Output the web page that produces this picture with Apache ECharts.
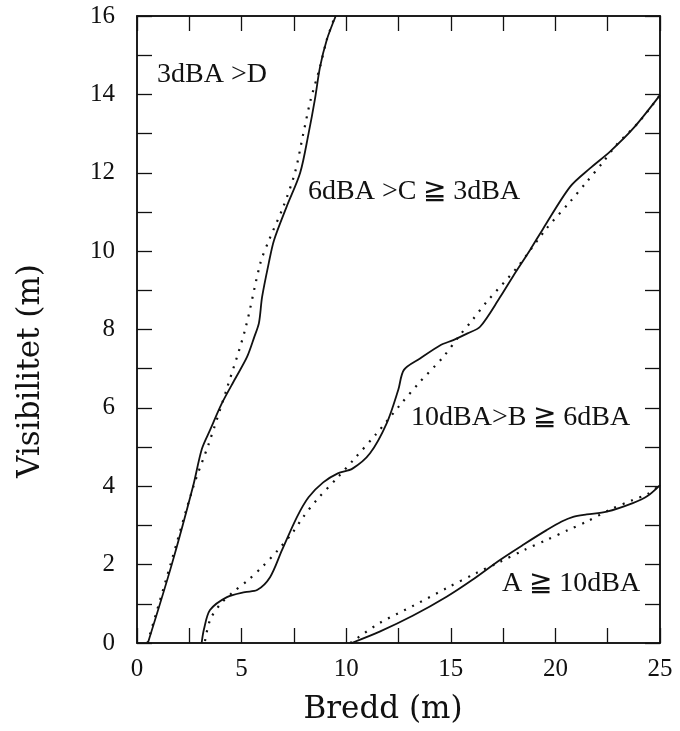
<!DOCTYPE html>
<html>
<head>
<meta charset="utf-8">
<script src="https://cdn.jsdelivr.net/npm/echarts@6/dist/echarts.min.js"></script>
<style>
  html, body { margin: 0; padding: 0; background: #fff; }
  #main { width: 680px; height: 731px; }
</style>
</head>
<body>
<div id="main"></div>
<script>
// grenser mellom sonene, [bredd, visibilitet]
var lineD = [[0.52, 0], [1.66, 2], [2.68, 4], [3.1, 4.95], [3.49, 5.43], [4.06, 6.12], [4.7, 6.75],
    [5.26, 7.3], [5.6, 7.8], [5.83, 8.17], [5.98, 8.83], [6.3, 9.7], [6.55, 10.28], [7.15, 11.13],
    [7.8, 12], [8.2, 13.0], [8.5, 13.86], [8.75, 14.7], [9.07, 15.39], [9.5, 16]];
var fitD = [[0.5, 0], [1.6, 2], [2.7, 4], [3.44, 5.1], [4.3, 6.5], [5.17, 8], [5.9, 9.7], [6.31, 10.28],
    [6.99, 11.13], [7.55, 12], [7.95, 13], [8.3, 13.86], [8.75, 14.7], [9.07, 15.39], [9.47, 16]];

var lineC = [[3.09, 0], [3.2, 0.35], [3.49, 0.84], [4.3, 1.17], [5.16, 1.3], [5.74, 1.35], [6.36, 1.68],
    [6.93, 2.37], [7.65, 3.22], [8.2, 3.72], [8.9, 4.1], [9.6, 4.33], [10.3, 4.45], [11.14, 4.84],
    [11.94, 5.61], [12.49, 6.46], [12.76, 6.97], [13.53, 7.26], [14.5, 7.6], [15.12, 7.73], [15.8, 7.9],
    [16.4, 8.07], [17.35, 8.82], [18.0, 9.38], [18.79, 10.03], [19.42, 10.58], [20.7, 11.64],
    [21.65, 12.11], [22.61, 12.54], [23.72, 13.13], [25, 13.98]];
var fitC = [[3.25, 0.05], [3.5, 0.6], [4.0, 1.0], [4.6, 1.3], [5.3, 1.6], [6.0, 1.95], [6.7, 2.35],
    [7.47, 2.84], [7.95, 3.22], [8.59, 3.65], [9.62, 4.24], [10.34, 4.67], [11.46, 5.35], [12.57, 6.07],
    [13.5, 6.65], [14.64, 7.3], [15.44, 7.86], [16.0, 8.22], [16.72, 8.71], [18.15, 9.57], [19.58, 10.58],
    [20.7, 11.26], [21.5, 11.77], [22.29, 12.28], [22.9, 12.7], [24, 13.3], [25, 13.98]];

var lineA = [[10.26, 0], [11.6, 0.29], [13.2, 0.7], [14.8, 1.18], [16.0, 1.6], [17.35, 2.12], [18.5, 2.52],
    [19.58, 2.88], [20.3, 3.1], [20.85, 3.22], [21.5, 3.28], [22.45, 3.35], [23.7, 3.57], [24.4, 3.75],
    [25, 4.03]];
var fitA = [[10.2, 0], [11.6, 0.51], [13.2, 0.95], [14.8, 1.4], [16.2, 1.78], [17.35, 2.07], [18.5, 2.37],
    [19.58, 2.63], [20.6, 2.88], [21.5, 3.1], [22.6, 3.4], [23.7, 3.65], [24.4, 3.8], [25, 4.03]];

// tekst i feltene
var zoneLabels = ['3dBA >D', '6dBA >C \u2267 3dBA', '10dBA>B \u2267 6dBA', 'A \u2267 10dBA'];
var xTitle = 'Bredd (m)';
var yTitle = 'Visibilitet (m)';

var ink = '#111';
var serif = 'Liberation Serif';

// egne objekt for hver akse
function makeAxis(type, max, interval, pos, labels) {
    return {
        type: 'value', min: 0, max: max, interval: interval, position: pos,
        axisLine: { show: true, onZero: false, lineStyle: { color: ink, width: 1.5 } },
        axisTick: { show: true, inside: true, length: 15, lineStyle: { color: ink, width: 1.3 } },
        minorTick: { show: true, splitNumber: 2, length: 15, lineStyle: { color: ink, width: 1.3 } },
        splitLine: { show: false },
        minorSplitLine: { show: false },
        axisLabel: { show: labels, color: ink, fontFamily: serif, fontSize: 25, margin: type == 'x' ? 14 : 22 }
    };
}

function solid(d) {
    return {
        type: 'line', data: d, showSymbol: false, smooth: 0.3, silent: true,
        lineStyle: { color: ink, width: 1.8 }
    };
}
function dotted(d) {
    return {
        type: 'line', data: d, showSymbol: false, smooth: 0.3, silent: true,
        lineStyle: { color: ink, width: 2.2, type: [2, 7] }
    };
}

var myChart = echarts.init(document.getElementById('main'));

var allSeries = [solid(lineD), dotted(fitD), solid(lineC), dotted(fitC), solid(lineA), dotted(fitA)];
// tom serie slik at topp/hoyre akse blir tegnet
allSeries.push({ type: 'line', xAxisIndex: 1, yAxisIndex: 1, data: [], silent: true });

var option = {
    animation: false,
    backgroundColor: '#fff',
    grid: { left: 137, top: 16, right: 20, bottom: 88, show: true, borderColor: ink, borderWidth: 1.5 },
    xAxis: [makeAxis('x', 25, 5, 'bottom', true), makeAxis('x', 25, 5, 'top', false)],
    yAxis: [makeAxis('y', 16, 2, 'left', true), makeAxis('y', 16, 2, 'right', false)],
    series: allSeries,
    graphic: [
        { type: 'text', x: 157, y: 75, style: { text: zoneLabels[0], font: '28px ' + serif, fill: ink, verticalAlign: 'middle' } },
        { type: 'text', x: 308, y: 192, style: { text: zoneLabels[1], font: '28px ' + serif, fill: ink, verticalAlign: 'middle' } },
        { type: 'text', x: 411, y: 418, style: { text: zoneLabels[2], font: '28px ' + serif, fill: ink, verticalAlign: 'middle' } },
        { type: 'text', x: 502, y: 584, style: { text: zoneLabels[3], font: '28px ' + serif, fill: ink, verticalAlign: 'middle' } },
        // aksetitler
        { type: 'text', x: 383, y: 710, style: { text: xTitle, font: '31px DejaVu Serif', fill: ink, align: 'center', verticalAlign: 'middle' } },
        { type: 'text', x: 31, y: 371, rotation: Math.PI / 2, style: { text: yTitle, font: '31px DejaVu Serif', fill: ink, align: 'center', verticalAlign: 'middle' } }
    ]
};

myChart.setOption(option);
</script>
</body>
</html>
